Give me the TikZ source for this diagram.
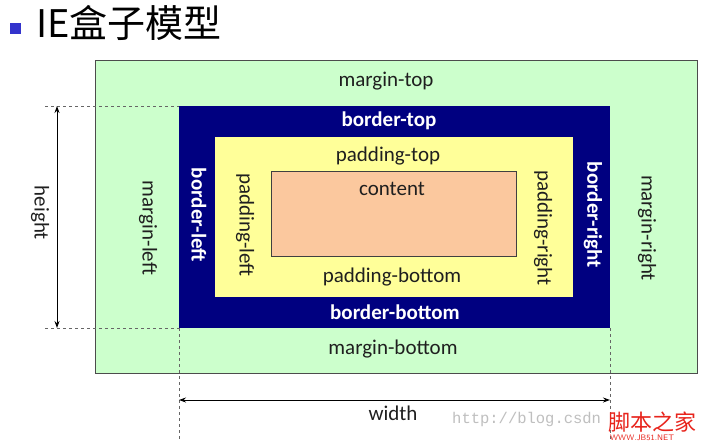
\documentclass[tikz,border=0pt]{standalone}
\usepackage{fontspec}
\setmainfont{Carlito}
\newfontfamily\cjk{Noto Sans CJK SC}
\newfontfamily\monof{Liberation Mono}
\usetikzlibrary{arrows.meta}
\definecolor{mgreen}{HTML}{CCFFCC}
\definecolor{bnavy}{HTML}{000080}
\definecolor{pyellow}{HTML}{FFFF99}
\definecolor{csalmon}{HTML}{FBC89E}
\definecolor{tblue}{HTML}{3333CC}
\definecolor{wmred}{HTML}{E8241C}
\begin{document}
\begin{tikzpicture}[x=1pt,y=-1pt,
  lbl/.style={font=\fontsize{21}{23}\selectfont, text=black!88, inner sep=0pt},
  wlbl/.style={font=\fontsize{21}{23}\selectfont\bfseries, text=white, inner sep=0pt},
  dim/.style={black, line width=0.9pt, {Stealth[length=7pt,width=5pt]}-{Stealth[length=7pt,width=5pt]}},
  ext/.style={gray!80!black, dashed, line width=0.8pt}]
\useasboundingbox (0,0) rectangle (704,444);
\fill[white] (0,0) rectangle (704,444);
% title
\fill[tblue] (10,23) rectangle (21,34);
\node[anchor=west, inner sep=0pt] (title) at (36,23) {\fontsize{38}{42}\selectfont\cjk IE盒子模型};
% boxes
\coordinate (mtl) at (95,60); \coordinate (mbr) at (697,373);
\coordinate (btl) at (179,106); \coordinate (bbr) at (610,328);
\coordinate (ptl) at (215,137); \coordinate (pbr) at (573,297);
\coordinate (ctl) at (271,171); \coordinate (cbr) at (516,256);
\filldraw[fill=mgreen, draw=black!70, line width=0.8pt] (mtl) rectangle (mbr);
\fill[bnavy] (btl) rectangle (bbr);
\fill[pyellow] (ptl) rectangle (pbr);
\filldraw[fill=csalmon, draw=black!75, line width=0.7pt] (ctl) rectangle (cbr);
% labels
\node[lbl] (mt) at (386,81) {margin-top};
\node[wlbl] (bt) at (389,121) {border-top};
\node[lbl] (pt) at (388,156) {padding-top};
\node[lbl] (ct) at (392,189) {content};
\node[lbl] (pb) at (392,277) {padding-bottom};
\node[wlbl] (bb) at (395,312) {border-bottom};
\node[lbl] (mb) at (393,349) {margin-bottom};
\node[lbl, rotate=-90] (ml) at (148,228) {margin-left};
\node[wlbl, rotate=-90] (bl) at (199,215) {border-left};
\node[lbl, rotate=-90] (pl) at (245,225) {padding-left};
\node[lbl, rotate=-90] (pr) at (543,228) {padding-right};
\node[wlbl, rotate=-90] (br) at (593,215) {border-right};
\node[lbl, rotate=-90] (mr) at (647,228) {margin-right};
% dimension lines
\coordinate (hT0) at (45,106); \coordinate (hB0) at (45,328);
\coordinate (bl0) at (179,328); \coordinate (br0) at (610,328);
\coordinate (wl1) at (179,440); \coordinate (wr1) at (610,440);
\draw[ext] (hT0) -- (btl);
\draw[ext] (hB0) -- (bl0);
\draw[ext] (bl0) -- (wl1);
\draw[ext] (br0) -- (wr1);
\coordinate (ha) at (57,106); \coordinate (hb) at (57,328);
\coordinate (wa) at (179,400); \coordinate (wb) at (610,400);
\draw[dim] (ha) -- (hb);
\draw[dim] (wa) -- (wb);
\node[lbl, rotate=-90] (ht) at (40,213) {height};
\node[lbl] (wd) at (393,413) {width};
% watermarks
\node[anchor=west, inner sep=0pt, text=black!25, font=\monof\fontsize{15.5}{18}\selectfont] (wm1) at (452,419) {http://blog.csdn};
\node[anchor=west, inner sep=0pt, text=wmred, font=\cjk\fontsize{22}{24}\selectfont] (wm2) at (608,422) {脚本之家};
\node[anchor=west, inner sep=0pt, text=wmred, font=\sffamily\fontsize{8}{9}\selectfont] (wm3) at (610,438) {WWW.JB51.NET};
\end{tikzpicture}
\end{document}
